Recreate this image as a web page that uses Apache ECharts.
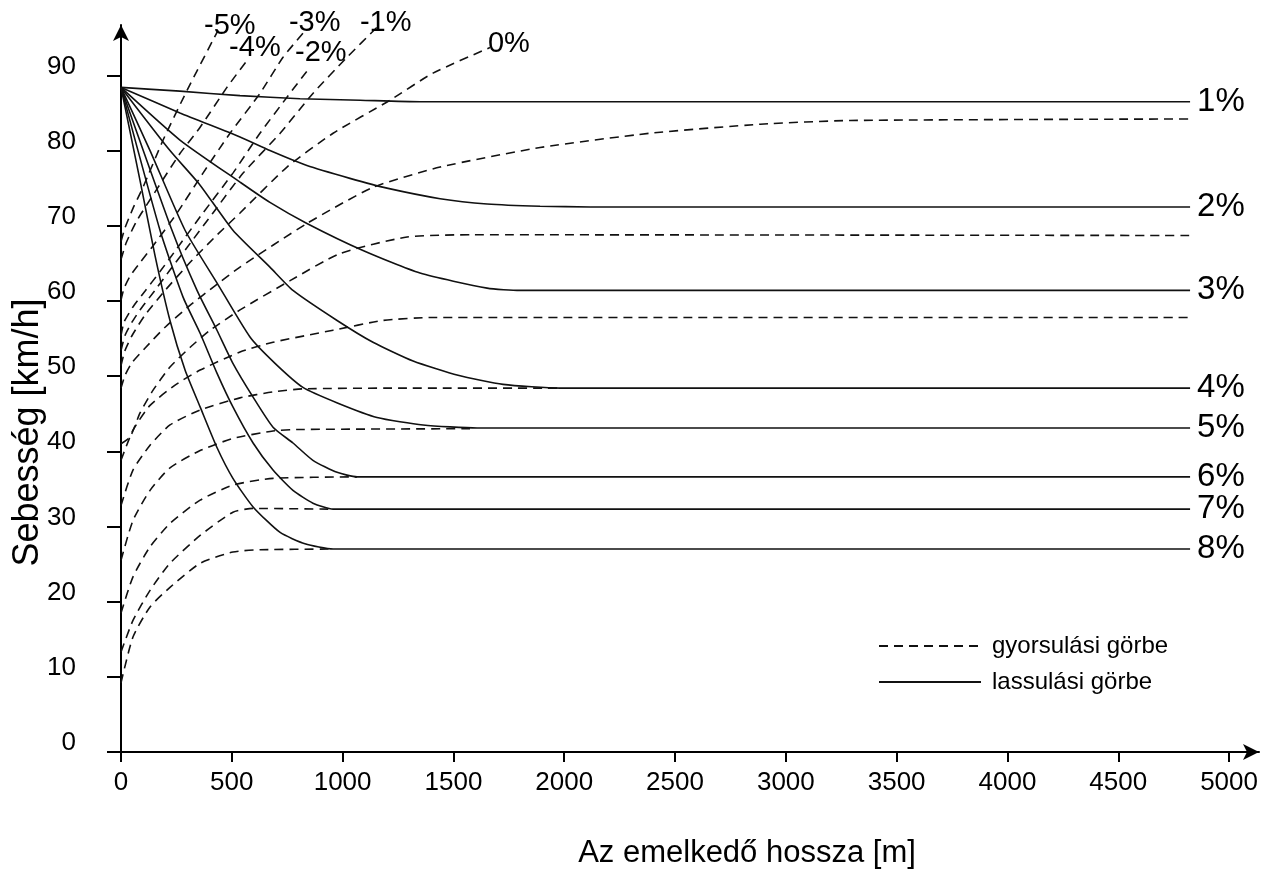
<!DOCTYPE html>
<html>
<head>
<meta charset="utf-8">
<script src="https://cdn.jsdelivr.net/npm/echarts@6/dist/echarts.min.js"></script>
<style>
  html, body { margin: 0; padding: 0; background: #fff; }
  #chart { width: 1269px; height: 870px; }
</style>
</head>
<body>
<div id="chart"></div>
<script>
// tick values
const xTicks = [0, 500, 1000, 1500, 2000, 2500, 3000, 3500, 4000, 4500, 5000]
const yTicks = [0, 10, 20, 30, 40, 50, 60, 70, 80, 90]

// lassulási görbék (deceleration, solid) [m, km/h]
const lass1 = [[0, 88.4], [266, 87.9], [537, 87.3], [808, 86.9], [1079, 86.7], [1349, 86.5], [4824, 86.5]]
const lass2 = [[0, 88.4], [266, 85.0], [537, 81.8], [672, 80.0], [839, 78.0], [1033, 76.3], [1200, 75.0], [1440, 73.6], [1652, 72.9], [1891, 72.6], [2117, 72.5], [4824, 72.5]]
const lass3 = [[0, 88.4], [266, 81.4], [537, 75.8], [672, 73.1], [839, 70.3], [1092, 66.7], [1349, 63.7], [1652, 61.7], [1801, 61.4], [4824, 61.4]]
const lass4 = [[0, 88.4], [221, 80.0], [357, 75.4], [505, 69.4], [672, 64.5], [776, 61.4], [975, 57.4], [1137, 54.5], [1318, 52.0], [1521, 50.1], [1724, 48.9], [1981, 48.4], [4824, 48.4]]
const lass5 = [[0, 88.4], [131, 80.0], [289, 69.4], [433, 62.4], [582, 55.2], [695, 51.7], [821, 48.5], [979, 46.4], [1155, 44.5], [1363, 43.5], [1607, 43.1], [4824, 43.1]]
const lass6 = [[0, 88.4], [230, 69.4], [343, 61.4], [433, 56.1], [505, 51.7], [596, 47.2], [686, 43.2], [776, 41.1], [866, 38.8], [975, 37.2], [1065, 36.6], [4824, 36.6]]
const lass7 = [[0, 88.4], [176, 69.4], [280, 60.5], [357, 55.7], [433, 50.4], [505, 45.9], [596, 41.1], [686, 37.5], [776, 34.8], [866, 33.1], [957, 32.3], [4824, 32.3]]
const lass8 = [[0, 88.4], [86, 76.0], [153, 66.1], [221, 57.4], [289, 50.8], [357, 45.9], [433, 40.5], [505, 36.4], [596, 32.6], [718, 29.2], [830, 27.7], [957, 27.0], [4824, 27.0]]

// gyorsulási görbék (acceleration, dashed) [m, km/h]
const gyors8 = [[0, 9.2], [54, 15.3], [131, 19.3], [221, 21.9], [357, 25.1], [505, 26.6], [627, 26.9], [957, 27.0]]
const gyors7 = [[0, 13.3], [54, 17.5], [131, 21.5], [221, 25.1], [357, 28.8], [505, 31.9], [596, 32.4], [957, 32.3]]
const gyors6 = [[0, 18.5], [54, 23.3], [131, 27.3], [221, 30.4], [357, 33.5], [505, 35.5], [686, 36.4], [1065, 36.6]]
const gyors5 = [[0, 25.5], [54, 30.8], [131, 34.8], [221, 37.8], [357, 40.1], [505, 41.7], [686, 42.7], [808, 42.9], [1575, 43.0]]
const gyors4 = [[0, 32.8], [54, 37.5], [131, 40.8], [221, 43.5], [357, 45.5], [537, 47.1], [686, 47.9], [821, 48.3], [1259, 48.4], [1981, 48.4]]
const gyors3 = [[0, 38.8], [54, 42.8], [131, 46.1], [244, 48.8], [357, 50.8], [537, 53.2], [686, 54.5], [957, 56.1], [1182, 57.4], [1408, 57.8], [4824, 57.8]]
const gyors2 = [[0, 41.0], [41, 41.9], [86, 45.1], [144, 48.1], [221, 51.2], [311, 53.8], [402, 56.1], [537, 58.8], [763, 62.7], [988, 66.3], [1291, 68.5], [1589, 68.8], [4824, 68.7]]
const gyors1 = [[0, 48.4], [18, 50.1], [50, 51.8], [108, 53.7], [199, 56.5], [311, 59.4], [424, 62.0], [537, 64.5], [839, 70.3], [1137, 75.1], [1440, 77.8], [1891, 80.4], [2387, 82.3], [2884, 83.5], [3290, 84.0], [4824, 84.2]]
const gyors0 = [[0, 51.4], [18, 53.4], [50, 55.4], [108, 58.1], [199, 61.4], [311, 65.1], [424, 68.5], [537, 71.7], [749, 77.8], [957, 82.3], [1214, 86.7], [1408, 90.3], [1665, 93.7]]
const gyorsM1 = [[0, 53.4], [18, 55.4], [50, 57.2], [86, 58.8], [153, 61.4], [221, 64.1], [298, 67.1], [415, 71.7], [551, 77.0], [718, 82.3], [866, 87.6], [1020, 92.4], [1155, 96.4]]
const gyorsM2 = [[0, 55.4], [14, 57.2], [54, 59.2], [108, 61.3], [176, 63.9], [253, 67.0], [370, 71.7], [505, 77.0], [627, 82.3], [749, 87.1], [853, 91.1]]
const gyorsM3 = [[0, 60.1], [14, 61.7], [41, 63.3], [86, 65.1], [144, 67.3], [253, 71.7], [370, 77.0], [492, 82.3], [627, 87.6], [731, 92.4], [821, 95.6]]
const gyorsM4 = [[0, 65.5], [23, 67.7], [72, 70.7], [167, 75.1], [266, 79.6], [357, 83.1], [478, 88.4], [569, 92.0]]
const gyorsM5 = [[0, 67.9], [18, 69.7], [54, 72.3], [99, 75.1], [190, 81.4], [298, 88.0], [438, 96.0]]

const FONT = 'Arial, "Liberation Sans", sans-serif'
const DASHED = 'gyorsulási görbe'
const SOLID = 'lassulási görbe'

function makeLine(name, data, dashed, label, offset, size) {
  const s = {
    name: name,
    type: 'line',
    data: data,
    smooth: 0.2,
    showSymbol: false,
    symbol: 'none',
    silent: true,
    itemStyle: { color: '#111' },
    lineStyle: {
      color: '#111',
      width: 1.6,
      type: dashed ? [9, 6] : 'solid'
    }
  }
  if (label) {
    s.endLabel = {
      show: true,
      formatter: label,
      distance: 0,
      offset: offset || [0, 0],
      color: '#000',
      fontSize: size || 29,
      fontFamily: FONT
    }
  }
  return s
}

const series = [
  makeLine(SOLID, lass1, false, '1%', [7, 0], 33),
  makeLine(SOLID, lass2, false, '2%', [7, 0], 33),
  makeLine(SOLID, lass3, false, '3%', [7, 0], 33),
  makeLine(SOLID, lass4, false, '4%', [7, 0], 33),
  makeLine(SOLID, lass5, false, '5%', [7, 0], 33),
  makeLine(SOLID, lass6, false, '6%', [7, 0], 33),
  makeLine(SOLID, lass7, false, '7%', [7, 0], 33),
  makeLine(SOLID, lass8, false, '8%', [7, 0], 33),
  makeLine(DASHED, gyors8, true),
  makeLine(DASHED, gyors7, true),
  makeLine(DASHED, gyors6, true),
  makeLine(DASHED, gyors5, true),
  makeLine(DASHED, gyors4, true),
  makeLine(DASHED, gyors3, true),
  makeLine(DASHED, gyors2, true),
  makeLine(DASHED, gyors1, true),
  makeLine(DASHED, gyors0, true, '0%', [-2, -4]),
  makeLine(DASHED, gyorsM1, true, '-1%', [-17, -4]),
  makeLine(DASHED, gyorsM2, true, '-2%', [-15, -14]),
  makeLine(DASHED, gyorsM3, true, '-3%', [-14, -10]),
  makeLine(DASHED, gyorsM4, true, '-4%', [-18, -12]),
  makeLine(DASHED, gyorsM5, true, '-5%', [-14, -4])
]

const chart = echarts.init(document.getElementById('chart'))

chart.setOption({
  animation: false,
  backgroundColor: '#fff',
  textStyle: { fontFamily: FONT, color: '#000' },
  grid: {
    left: 121,
    right: 10,
    top: 25,
    bottom: 118,
    containLabel: false,
    outerBoundsMode: 'none'
  },
  legend: {
    data: [DASHED, SOLID],
    orient: 'vertical',
    left: 873,
    top: 629,
    itemWidth: 102,
    itemHeight: 14,
    itemGap: 12,
    selectedMode: false,
    itemStyle: { opacity: 0 },
    textStyle: { fontSize: 24, color: '#000', fontFamily: FONT, padding: [0, 0, 0, 6] }
  },
  xAxis: {
    type: 'value',
    min: 0,
    max: 5135,
    name: 'Az emelkedő hossza [m]',
    nameLocation: 'middle',
    nameGap: 86,
    nameMoveOverlap: false,
    nameTextStyle: { fontSize: 31, color: '#000', fontFamily: FONT, padding: [0, 0, 0, 114] },
    axisLine: {
      lineStyle: { color: '#000', width: 2 },
      symbol: ['none', 'arrow'],
      symbolSize: [12, 16]
    },
    axisTick: { show: true, length: 10, lineStyle: { color: '#000', width: 2 }, customValues: xTicks },
    axisLabel: {
      fontSize: 26, color: '#000', margin: 18, fontFamily: FONT, customValues: xTicks,
      formatter: function (v) { return String(v) }
    },
    splitLine: { show: false }
  },
  yAxis: {
    type: 'value',
    min: 0,
    max: 96.7,
    name: 'Sebesség [km/h]',
    nameLocation: 'middle',
    nameGap: 75,
    nameMoveOverlap: false,
    nameRotate: 90,
    nameTextStyle: { fontSize: 36, color: '#000', fontFamily: FONT, padding: [0, 88, 0, 0] },
    axisLine: {
      show: true,
      lineStyle: { color: '#000', width: 2 },
      symbol: ['none', 'arrow'],
      symbolSize: [12, 16]
    },
    axisTick: { show: true, length: 14, lineStyle: { color: '#000', width: 2 }, customValues: yTicks },
    axisLabel: {
      fontSize: 26, color: '#000', margin: 45, fontFamily: FONT, customValues: yTicks,
      verticalAlign: 'bottom', lineHeight: 18,
      formatter: function (v) { return String(v) }
    },
    splitLine: { show: false }
  },
  series: series
})
</script>
</body>
</html>
